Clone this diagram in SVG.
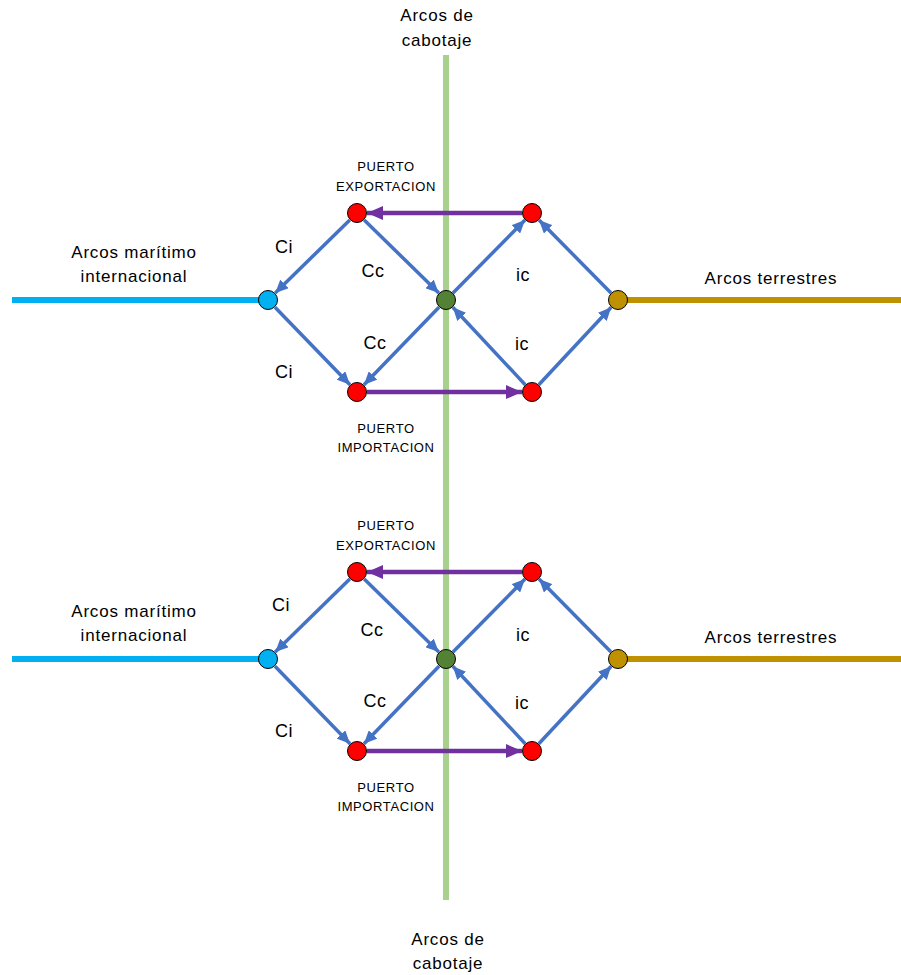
<svg xmlns="http://www.w3.org/2000/svg" width="901" height="975" viewBox="0 0 901 975">
<style>
text{font-family:"Liberation Sans",Arial,sans-serif;fill:#000;text-anchor:middle}
.big{font-size:17px;letter-spacing:0.8px}
.sm{font-size:13px;letter-spacing:0.6px}
.lab{font-size:18px;letter-spacing:0.5px}
.arr{stroke:#4472C4;stroke-width:3.5;fill:none;marker-end:url(#ab)}
.parr{stroke:#7030A0;stroke-width:4.5;fill:none;marker-end:url(#ap)}
.n{stroke:#000;stroke-width:1}
.red{fill:#FF0000}.grn{fill:#548235}.blu{fill:#00B0F0}.gld{fill:#BF9000}
</style>
<defs>
<marker id="ab" markerUnits="userSpaceOnUse" markerWidth="14" markerHeight="12" refX="13" refY="6" orient="auto"><path d="M0,0 L13,6 L0,12 Z" fill="#4472C4"/></marker>
<marker id="ap" markerUnits="userSpaceOnUse" markerWidth="17" markerHeight="14" refX="16" refY="7" orient="auto"><path d="M0,0 L16,7 L0,14 Z" fill="#7030A0"/></marker>
</defs>
<g id="backbone">
<line x1="446" y1="55" x2="446" y2="900" stroke="#A9D18E" stroke-width="6"/>
<line x1="12" y1="300" x2="268" y2="300" stroke="#00B0F0" stroke-width="6"/>
<line x1="618" y1="300" x2="901" y2="300" stroke="#BF9000" stroke-width="6"/>
<line x1="12" y1="659" x2="268" y2="659" stroke="#00B0F0" stroke-width="6"/>
<line x1="618" y1="659" x2="901" y2="659" stroke="#BF9000" stroke-width="6"/>
</g>
<g id="labels">
<text class="big" x="437" y="21">Arcos de</text>
<text class="big" x="437" y="46">cabotaje</text>
<text class="big" x="448" y="945">Arcos de</text>
<text class="big" x="448" y="969">cabotaje</text>
<text class="big" x="134" y="258">Arcos marítimo</text>
<text class="big" x="134" y="282">internacional</text>
<text class="big" x="771" y="284">Arcos terrestres</text>
<text class="big" x="134" y="617">Arcos marítimo</text>
<text class="big" x="134" y="641">internacional</text>
<text class="big" x="771" y="643">Arcos terrestres</text>
</g>
<g id="connectors">
<g id="top-arcs">
<line class="arr" x1="349.8" y1="220" x2="275.2" y2="293"/>
<line class="arr" x1="275" y1="307.2" x2="350" y2="384.8"/>
<line class="arr" x1="364.2" y1="220" x2="438.8" y2="293"/>
<line class="arr" x1="439" y1="307.2" x2="364" y2="384.8"/>
<line class="arr" x1="453" y1="292.9" x2="525" y2="220.1"/>
<line class="arr" x1="525.2" y1="384.7" x2="452.8" y2="307.3"/>
<line class="arr" x1="611" y1="292.9" x2="539" y2="220.1"/>
<line class="arr" x1="538.8" y1="384.7" x2="611.2" y2="307.3"/>
<line class="parr" x1="522" y1="213" x2="367" y2="213"/>
<line class="parr" x1="367" y1="392" x2="522" y2="392"/>
</g>
<g id="bottom-arcs" transform="translate(0,359)">
<line class="arr" x1="349.8" y1="220" x2="275.2" y2="293"/>
<line class="arr" x1="275" y1="307.2" x2="350" y2="384.8"/>
<line class="arr" x1="364.2" y1="220" x2="438.8" y2="293"/>
<line class="arr" x1="439" y1="307.2" x2="364" y2="384.8"/>
<line class="arr" x1="453" y1="292.9" x2="525" y2="220.1"/>
<line class="arr" x1="525.2" y1="384.7" x2="452.8" y2="307.3"/>
<line class="arr" x1="611" y1="292.9" x2="539" y2="220.1"/>
<line class="arr" x1="538.8" y1="384.7" x2="611.2" y2="307.3"/>
<line class="parr" x1="522" y1="213" x2="367" y2="213"/>
<line class="parr" x1="367" y1="392" x2="522" y2="392"/>
</g>
</g>
<g id="arc-labels">
<text class="lab" x="284" y="253">Ci</text>
<text class="lab" x="373" y="277">Cc</text>
<text class="lab" x="523" y="281">ic</text>
<text class="lab" x="375" y="349">Cc</text>
<text class="lab" x="522" y="350">ic</text>
<text class="lab" x="284" y="378">Ci</text>
<text class="lab" x="281" y="611">Ci</text>
<text class="lab" x="372" y="636">Cc</text>
<text class="lab" x="523" y="641">ic</text>
<text class="lab" x="375" y="707">Cc</text>
<text class="lab" x="522" y="709">ic</text>
<text class="lab" x="284" y="737">Ci</text>
</g>
<g id="top-export"><circle class="n red" cx="357" cy="213" r="9.5"/><text class="sm" x="386" y="171">PUERTO</text><text class="sm" x="386" y="191">EXPORTACION</text></g>
<g id="top-export-inland"><circle class="n red" cx="532" cy="213" r="9.5"/></g>
<g id="top-cabotage"><circle class="n grn" cx="446" cy="300" r="9.5"/></g>
<g id="top-maritime"><circle class="n blu" cx="268" cy="300" r="9.5"/></g>
<g id="top-land"><circle class="n gld" cx="618" cy="300" r="9.5"/></g>
<g id="top-import"><circle class="n red" cx="357" cy="392" r="9.5"/><text class="sm" x="386" y="433">PUERTO</text><text class="sm" x="386" y="452">IMPORTACION</text></g>
<g id="top-import-inland"><circle class="n red" cx="532" cy="392" r="9.5"/></g>
<g id="bot-export"><circle class="n red" cx="357" cy="572" r="9.5"/><text class="sm" x="386" y="530">PUERTO</text><text class="sm" x="386" y="550">EXPORTACION</text></g>
<g id="bot-export-inland"><circle class="n red" cx="532" cy="572" r="9.5"/></g>
<g id="bot-cabotage"><circle class="n grn" cx="446" cy="659" r="9.5"/></g>
<g id="bot-maritime"><circle class="n blu" cx="268" cy="659" r="9.5"/></g>
<g id="bot-land"><circle class="n gld" cx="618" cy="659" r="9.5"/></g>
<g id="bot-import"><circle class="n red" cx="357" cy="751" r="9.5"/><text class="sm" x="386" y="792">PUERTO</text><text class="sm" x="386" y="811">IMPORTACION</text></g>
<g id="bot-import-inland"><circle class="n red" cx="532" cy="751" r="9.5"/></g>
</svg>
